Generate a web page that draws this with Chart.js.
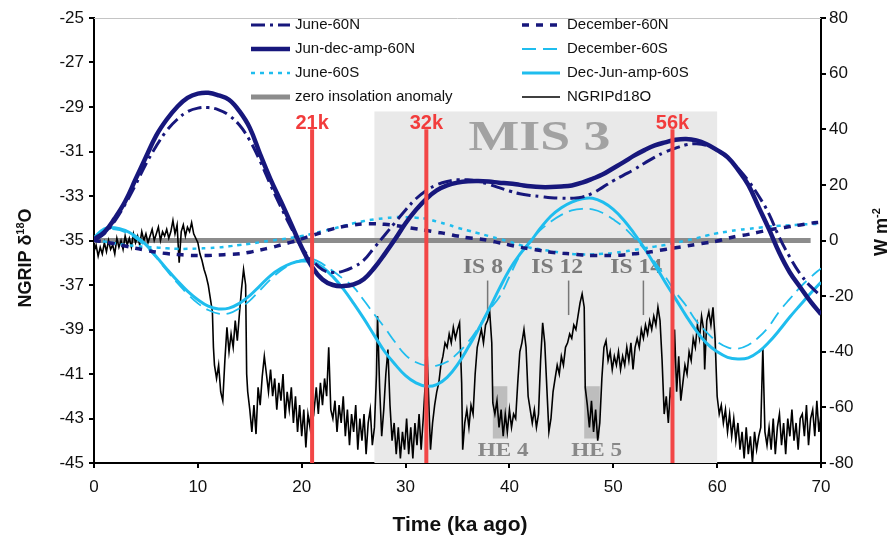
<!DOCTYPE html>
<html>
<head>
<meta charset="utf-8">
<script src="https://cdn.jsdelivr.net/npm/chart.js@4.4.0/dist/chart.umd.min.js"></script>
<style>
  html, body { margin: 0; padding: 0; background: #fff; }
</style>
</head>
<body>
<canvas id="chart" width="893" height="537"></canvas>
<script>
// insolation anomalies (W m-2), one value per ka
const insolAge = [0,1,2,3,4,5,6,7,8,9,10,11,12,13,14,15,16,17,18,19,20,21,22,23,24,25,26,27,28,29,30,31,32,33,34,35,36,37,38,39,40,41,42,43,44,45,46,47,48,49,50,51,52,53,54,55,56,57,58,59,60,61,62,63,64,65,66,67,68,69,70]
const june60N = [0,2.5,7,13,20,27.5,34,39.5,43.5,46.3,47.6,47.8,47,45,41.5,36,28.5,20,12,4.5,-2.5,-7,-10.5,-11.5,-11,-9.5,-7,-2.5,2,6.5,11,15,18,20,21.2,21.8,21.8,21.2,20.2,19,17.8,16.8,16.2,15.8,15.4,15.2,15.2,15.6,17,19.2,21.5,23.5,25.5,27.8,30,31.8,33.2,34.4,34.8,34.2,32.5,29.8,26,21.5,16,9.5,1,-6,-12,-16.5,-20]
const ampN60 = [0.5,3,8,14,22,30,37.8,43.5,48,51.3,52.8,53.1,52.2,50.6,46.5,40.5,31,22,14,5.8,-2.5,-9.5,-14,-16,-16.4,-15.8,-13.8,-9.8,-4.8,0.5,6.2,11,15,18,19.8,20.8,21.3,21.4,21.2,20.8,20.5,20,19.5,19.2,19.2,19.4,19.8,20.8,22.2,23.8,26,28.2,30.5,32.5,34.2,35.3,36.2,36.5,36,34.6,32.5,30,25.5,20,12,4,-4.5,-11.5,-16.8,-22,-26.5]
const dec60N = [0,-0.5,-1.2,-2,-2.8,-3.5,-4.2,-4.7,-5,-5.3,-5.4,-5.4,-5.2,-5,-4.8,-4.2,-3.4,-2.6,-1.6,-0.6,0.6,1.8,3,4.2,5,5.6,6,6,5.8,5.4,4.8,4.2,3.6,3,2.4,1.6,1,0.6,0,-0.8,-1.6,-2.4,-3,-3.6,-4.2,-4.6,-4.8,-5.2,-5.4,-5.4,-5.4,-5.2,-4.8,-4.4,-3.8,-3.2,-2.6,-2,-1.4,-0.8,-0.2,0.8,1.6,2.2,3,3.8,4.4,5,5.6,6.2,6.6]
const june60S = [0,-0.4,-1,-1.6,-2,-2.3,-2.5,-2.8,-3,-3,-2.9,-2.7,-2.5,-2.1,-1.6,-1.2,-0.6,0,0.4,1,1.6,2.4,3.4,4.2,5.2,6.2,7,7.6,8,8.4,8.4,8.2,7.8,6.8,5.8,4.6,3.6,2.6,1.6,0.6,-0.4,-1.6,-2.6,-3.2,-3.8,-4.4,-4.8,-5,-5,-4.8,-4.5,-4,-3.4,-2.8,-2.2,-1.6,-0.8,0,0.8,1.8,2.6,3.2,3.8,4.2,4.6,5,5.3,5.5,5.7,5.9,6]
const dec60S = [1,3.6,4,3,0.8,-2.2,-6.2,-10.8,-15.2,-19.2,-22.6,-25,-26.3,-26.2,-24.4,-21.6,-17.8,-14,-10.8,-8.4,-7,-6.6,-8.4,-11,-13.8,-16.8,-21.6,-26.6,-31.4,-36.6,-41.2,-43.8,-45,-45,-43.6,-40.6,-36.6,-31.4,-25.2,-20.5,-13,-5.4,0,3.8,6.8,9.2,10.8,11.4,11.2,9.9,7.6,4.8,1,-3.2,-7.8,-13,-18.6,-23.4,-29,-33,-36.4,-38.4,-38.9,-37.6,-34.8,-30.8,-25.4,-21,-16.8,-13.2,-10]
const ampS60 = [1,4.2,4.6,3.6,1.5,-1.5,-5.8,-10.2,-14.4,-18.2,-21.3,-23.6,-24.6,-24.3,-22.6,-19.8,-16.2,-12.6,-10,-8.2,-7.4,-7.6,-9.6,-13,-17.4,-22.6,-28.2,-34.2,-40,-44.6,-48.6,-51.2,-52.4,-51.8,-49.2,-44.6,-38.6,-32,-25,-17.5,-10.5,-5,-0.5,4.5,8.8,11.8,13.8,15,15.2,13.8,11.2,7.4,2.6,-2.8,-8.8,-15,-21,-27,-32.5,-37,-40,-42,-42.6,-42.2,-40,-36.5,-32.2,-27.5,-23.2,-19,-15]
const zeroAge = [0, 69]

// NGRIP d18O (permil)
const ngripAge = [
  0,0.2,0.4,0.6,0.8,1,1.2,1.4,1.6,1.8,
  2,2.2,2.4,2.6,2.8,3,3.2,3.4,3.6,3.8,
  4,4.2,4.4,4.6,4.8,5,5.2,5.4,5.6,5.8,
  6,6.2,6.4,6.6,6.8,7,7.2,7.4,7.6,7.8,
  8,8.2,8.4,8.6,8.8,9,9.2,9.4,9.6,9.8,
  10,10.2,10.4,10.6,10.8,11,11.2,11.4,11.5,11.6,
  11.8,12,12.2,12.4,12.6,12.8,13,13.2,13.4,13.6,
  13.8,14,14.2,14.4,14.6,14.7,14.8,15,15.2,15.4,
  15.6,15.8,16,16.2,16.4,16.6,16.8,17,17.2,17.4,
  17.6,17.8,18,18.2,18.4,18.6,18.8,19,19.2,19.4,
  19.6,19.8,20,20.2,20.4,20.6,20.8,21,21.2,21.4,
  21.6,21.8,22,22.2,22.4,22.6,22.8,23,23.2,23.4,
  23.6,23.8,24,24.2,24.4,24.6,24.8,25,25.2,25.4,
  25.6,25.8,26,26.2,26.4,26.6,26.8,27,27.2,27.3,
  27.5,27.7,27.9,28.1,28.3,28.5,28.7,28.9,29.1,29.3,
  29.5,29.7,29.9,30.1,30.3,30.5,30.7,30.9,31.1,31.3,
  31.5,31.7,31.9,32,32.2,32.4,32.6,32.8,33,33.2,
  33.4,33.6,33.8,34,34.2,34.4,34.6,34.8,35,35.2,
  35.4,35.5,35.7,35.9,36.1,36.3,36.5,36.7,36.9,37.1,
  37.3,37.5,37.7,37.9,38.1,38.3,38.4,38.6,38.8,39,
  39.2,39.4,39.6,39.8,40,40.2,40.4,40.6,40.8,41,
  41.2,41.4,41.6,41.8,42,42.2,42.4,42.6,42.8,43,
  43.2,43.4,43.6,43.8,44,44.2,44.4,44.6,44.8,45,
  45.2,45.4,45.6,45.8,46,46.2,46.4,46.6,46.8,47,
  47.2,47.3,47.5,47.7,47.9,48.1,48.3,48.5,48.7,48.9,
  49.1,49.3,49.5,49.7,49.9,50.1,50.3,50.5,50.7,50.9,
  51.1,51.3,51.5,51.7,51.9,52.1,52.3,52.5,52.7,52.9,
  53.1,53.3,53.5,53.7,53.9,54.1,54.3,54.5,54.7,54.9,
  55.1,55.3,55.5,55.7,55.9,56.1,56.3,56.5,56.7,56.9,
  57.1,57.3,57.5,57.7,57.9,58.1,58.3,58.5,58.7,58.8,
  59,59.2,59.4,59.6,59.8,60,60.2,60.4,60.6,60.8,
  61,61.2,61.4,61.6,61.8,62,62.2,62.4,62.6,62.8,
  63,63.2,63.4,63.6,63.8,64,64.2,64.4,64.6,64.8,
  65,65.2,65.4,65.6,65.8,66,66.2,66.4,66.6,66.8,
  67,67.2,67.4,67.6,67.8,68,68.2,68.4,68.6,68.8,
  69,69.2,69.4,69.6,69.8,70
]
const ngripD18O = [
  -35.5,-35.2,-35.7,-35.3,-35.6,-35.1,-35.5,-35.0,-35.4,-35.2,
  -35.6,-34.9,-35.3,-35.0,-35.4,-34.8,-35.2,-34.9,-35.3,-34.7,
  -35.1,-34.8,-35.2,-34.6,-35.0,-34.7,-35.1,-34.8,-34.5,-35.0,
  -34.7,-34.4,-35.0,-34.6,-34.8,-34.5,-34.9,-34.6,-34.1,-34.7,
  -34.3,-36.0,-34.6,-34.3,-34.8,-34.4,-34.6,-34.2,-34.7,-34.9,
  -35.1,-35.6,-35.9,-36.3,-36.6,-37.0,-37.6,-38.2,-39.8,-40.6,
  -41.2,-40.6,-41.8,-42.2,-40.4,-38.9,-40.0,-39.2,-39.8,-38.6,
  -39.5,-38.3,-37.2,-36.3,-37.0,-41.0,-41.8,-42.6,-43.6,-42.4,
  -43.7,-41.6,-42.4,-41.1,-40.2,-41.0,-41.8,-40.8,-42.0,-41.2,
  -42.6,-41.4,-42.2,-41.0,-43.0,-41.8,-42.6,-41.6,-43.2,-42.0,
  -43.6,-42.4,-43.8,-42.6,-44.3,-42.8,-43.4,-41.8,-42.6,-41.6,
  -42.8,-41.4,-42.4,-41.2,-42.0,-39.8,-42.6,-43.0,-42.2,-43.6,
  -42.4,-43.2,-42.0,-43.8,-42.6,-44.2,-42.8,-43.6,-42.4,-44.4,
  -43.0,-44.0,-42.8,-44.6,-43.2,-42.6,-44.2,-43.4,-41.0,-38.4,
  -41.6,-43.8,-42.6,-41.0,-39.9,-42.4,-44.0,-43.2,-44.6,-43.4,
  -44.8,-43.6,-44.4,-43.0,-44.6,-43.4,-44.8,-43.2,-44.2,-42.8,
  -44.4,-43.0,-41.4,-39.0,-41.8,-44.4,-43.2,-42.4,-41.8,-41.4,
  -40.6,-40.2,-39.6,-39.8,-39.2,-39.6,-38.9,-39.4,-39.0,-38.7,
  -41.4,-44.4,-43.2,-42.6,-43.4,-42.4,-42.8,-41.0,-39.8,-39.4,
  -39.0,-39.6,-38.8,-38.6,-38.2,-39.6,-42.3,-42.8,-42.2,-43.4,
  -42.6,-43.8,-42.8,-43.6,-42.6,-43.4,-42.8,-43.0,-41.4,-40.0,
  -39.6,-39.0,-39.8,-42.0,-42.6,-43.2,-42.6,-43.4,-42.8,-40.4,
  -38.7,-39.6,-41.6,-43.6,-43.0,-41.8,-41.2,-40.6,-41.0,-40.2,
  -40.6,-39.8,-39.6,-39.2,-39.4,-38.8,-39.0,-38.4,-37.8,-37.4,
  -38.0,-41.6,-42.4,-43.4,-42.2,-43.6,-42.6,-44.0,-43.2,-41.2,
  -39.8,-39.5,-40.4,-40.0,-40.8,-40.2,-40.6,-40.0,-40.8,-40.2,
  -40.6,-39.8,-40.4,-39.6,-40.8,-39.8,-39.4,-39.8,-39.0,-39.4,
  -38.8,-39.2,-38.6,-39.0,-38.4,-38.8,-38.0,-38.6,-40.4,-42.8,
  -42.0,-43.2,-41.6,-42.4,-39.0,-41.8,-40.2,-42.2,-41.4,-40.6,
  -41.0,-40.0,-40.4,-39.4,-39.8,-38.8,-39.4,-38.4,-39.0,-40.8,
  -38.6,-38.2,-38.8,-38.0,-39.4,-42.0,-42.8,-42.4,-43.2,-42.6,
  -43.6,-42.8,-43.8,-43.0,-44.0,-43.2,-44.4,-43.6,-44.8,-43.4,
  -44.6,-43.8,-45.0,-43.6,-44.4,-43.8,-43.4,-39.8,-43.6,-44.2,
  -43.4,-44.4,-43.0,-44.6,-43.4,-42.8,-44.2,-43.2,-44.6,-43.0,
  -43.8,-42.6,-44.0,-43.2,-44.4,-43.0,-42.8,-43.8,-42.4,-44.2,
  -43.0,-42.6,-43.8,-42.2,-43.6,-42.8
]

// annotations (ages in ka, levels in permil on the left axis)
const eventAge = [21, 32, 55.7]
const eventLabel = ['21k', '32k', '56k']
const eventTop = -30.0
const eventLabelY = -29.72
const misSpan = [27, 60]
const misTop = -29.2
const misLabelAt = [42.9, -30.45]
const heSpans = [[38.4, 39.8], [47.2, 48.7]]
const heSpanY = [-41.55, -43.9]
const heLabels = ['HE 4', 'HE 5']
const heLabelAge = [39.4, 48.4]
const heLabelY = -44.45
const isLabels = ['IS 8', 'IS 12', 'IS 14']
const isLabelAge = [37.45, 44.6, 52.2]
const isLabelY = -36.25
const isMarkAge = [37.9, 45.7, 52.9]
const isMarkY = [-36.8, -38.35]

const NAVY = '#17177c'
const CYAN = '#1fbdee'

const pts = (xs, ys) => xs.map((x, i) => ({x: x, y: ys[i]}))

const redLines = eventAge.map(a => ({
    label: 'event', data: [{x: a, y: eventTop}, {x: a, y: -45}], yAxisID: 'y',
    borderColor: '#f24646', borderWidth: 4, pointRadius: 0, tension: 0
}))

const curves = [
    {label: 'Jun-dec-amp-60N', data: pts(insolAge, ampN60), yAxisID: 'y1', borderColor: NAVY, borderWidth: 4.5, tension: 0.4},
    {label: 'June-60N', data: pts(insolAge, june60N), yAxisID: 'y1', borderColor: NAVY, borderWidth: 3, borderDash: [14, 5, 3, 5], tension: 0.4},
    {label: 'December-60N', data: pts(insolAge, dec60N), yAxisID: 'y1', borderColor: NAVY, borderWidth: 3.5, borderDash: [7, 7], tension: 0.4},
    {label: 'Dec-Jun-amp-60S', data: pts(insolAge, ampS60), yAxisID: 'y1', borderColor: CYAN, borderWidth: 3, tension: 0.4},
    {label: 'December-60S', data: pts(insolAge, dec60S), yAxisID: 'y1', borderColor: CYAN, borderWidth: 1.8, borderDash: [14, 7], tension: 0.4},
    {label: 'June-60S', data: pts(insolAge, june60S), yAxisID: 'y1', borderColor: CYAN, borderWidth: 2.5, borderDash: [4, 5], tension: 0.4},
    {label: 'NGRIPd18O', data: pts(ngripAge, ngripD18O), yAxisID: 'y', borderColor: '#000', borderWidth: 1.6, tension: 0},
    {label: 'zero insolation anomaly', data: pts(zeroAge, [0, 0]), yAxisID: 'y1', borderColor: '#8c8c8c', borderWidth: 5, tension: 0}
]
curves.forEach(d => { d.pointRadius = 0; d.fill = false })

const legendCols = [
    ['June-60N', 'Jun-dec-amp-60N', 'June-60S', 'zero insolation anomaly'],
    ['December-60N', 'December-60S', 'Dec-Jun-amp-60S', 'NGRIPd18O']
]

function stretchText(ctx, text, x, y, sx) {
    ctx.save()
    ctx.translate(x, y)
    ctx.scale(sx, 1)
    ctx.fillText(text, 0, 0)
    ctx.restore()
}

const extras = {
    id: 'extras',
    beforeDatasetsDraw(chart) {
        const {ctx, chartArea: a} = chart
        const x = chart.scales.x, y = chart.scales.y
        ctx.save()
        // top frame line
        ctx.strokeStyle = '#c4c4c4'
        ctx.lineWidth = 1
        ctx.beginPath()
        ctx.moveTo(a.left, a.top + 0.5)
        ctx.lineTo(a.right, a.top + 0.5)
        ctx.stroke()
        // MIS 3 box
        const ml = x.getPixelForValue(misSpan[0]), mr = x.getPixelForValue(misSpan[1])
        const mt = y.getPixelForValue(misTop)
        ctx.fillStyle = '#e9e9e9'
        ctx.fillRect(ml, mt, mr - ml, a.bottom - mt)
        // HE boxes
        ctx.fillStyle = '#bdbdbd'
        heSpans.forEach(s => {
            const l = x.getPixelForValue(s[0]), r = x.getPixelForValue(s[1])
            const t = y.getPixelForValue(heSpanY[0]), b = y.getPixelForValue(heSpanY[1])
            ctx.fillRect(l, t, r - l, b - t)
        })
        ctx.textAlign = 'center'
        ctx.textBaseline = 'middle'
        // MIS 3 label
        ctx.fillStyle = '#a2a2a2'
        ctx.font = 'bold 42px "Liberation Serif", "Times New Roman", serif'
        stretchText(ctx, 'MIS 3', x.getPixelForValue(misLabelAt[0]), y.getPixelForValue(misLabelAt[1]), 1.28)
        // IS labels and markers
        ctx.fillStyle = '#7c7c7c'
        ctx.font = 'bold 20px "Liberation Serif", "Times New Roman", serif'
        isLabels.forEach((t, i) => stretchText(ctx, t, x.getPixelForValue(isLabelAge[i]), y.getPixelForValue(isLabelY), 1.18))
        ctx.strokeStyle = '#777'
        ctx.lineWidth = 1.5
        isMarkAge.forEach(a2 => {
            const px = x.getPixelForValue(a2)
            ctx.beginPath()
            ctx.moveTo(px, y.getPixelForValue(isMarkY[0]))
            ctx.lineTo(px, y.getPixelForValue(isMarkY[1]))
            ctx.stroke()
        })
        // HE labels
        ctx.fillStyle = '#888'
        ctx.font = 'bold 19px "Liberation Serif", "Times New Roman", serif'
        heLabels.forEach((t, i) => stretchText(ctx, t, x.getPixelForValue(heLabelAge[i]), y.getPixelForValue(heLabelY), 1.22))
        // event labels
        ctx.fillStyle = '#f23c3c'
        ctx.font = 'bold 20px "Liberation Sans", Arial, sans-serif'
        eventLabel.forEach((t, i) => ctx.fillText(t, x.getPixelForValue(eventAge[i]), y.getPixelForValue(eventLabelY)))
        ctx.restore()
    },
    afterDraw(chart) {
        const ctx = chart.ctx
        ctx.save()
        // legend
        ctx.font = '15px "Liberation Sans", Arial, sans-serif'
        ctx.textBaseline = 'middle'
        ctx.textAlign = 'left'
        const colX = [[251, 290, 295], [522, 560, 567]]
        const rowY = [25, 49, 73, 97]
        legendCols.forEach((col, ci) => {
            col.forEach((name, ri) => {
                const ds = chart.data.datasets.find(d => d.label === name)
                const yy = rowY[ri]
                ctx.strokeStyle = ds.borderColor
                ctx.lineWidth = ds.borderWidth
                ctx.setLineDash(ds.borderDash || [])
                ctx.beginPath()
                ctx.moveTo(colX[ci][0], yy)
                ctx.lineTo(colX[ci][1], yy)
                ctx.stroke()
                ctx.setLineDash([])
                ctx.fillStyle = '#111'
                ctx.fillText(name, colX[ci][2], yy)
            })
        })
        // axis titles
        ctx.fillStyle = '#111'
        const big = 'bold 18px "Liberation Sans", Arial, sans-serif'
        const small = 'bold 11px "Liberation Sans", Arial, sans-serif'
        function titled(parts, cx, cy, rot) {
            ctx.save()
            ctx.translate(cx, cy)
            ctx.rotate(rot)
            let w = 0
            parts.forEach(p => { ctx.font = p[1] ? small : big; w += ctx.measureText(p[0]).width })
            let px = -w / 2
            ctx.textAlign = 'left'
            ctx.textBaseline = 'alphabetic'
            parts.forEach(p => {
                ctx.font = p[1] ? small : big
                ctx.fillText(p[0], px, p[1] ? -1 : 6)
                px += ctx.measureText(p[0]).width
            })
            ctx.restore()
        }
        titled([['NGRIP \u03b4', false], ['18', true], ['O', false]], 25, 258, -Math.PI / 2)
        titled([['W m', false], ['-2', true]], 881, 232, -Math.PI / 2)
        ctx.font = 'bold 21px "Liberation Sans", Arial, sans-serif'
        ctx.textAlign = 'center'
        ctx.textBaseline = 'middle'
        ctx.fillText('Time (ka ago)', 460, 525)
        ctx.restore()
    }
}

const tickFont = {family: '"Liberation Sans", Arial, sans-serif', size: 17}
const axisGrid = {drawOnChartArea: false, drawTicks: true, tickLength: 5, color: '#000', lineWidth: 2}

new Chart(document.getElementById('chart'), {
    type: 'line',
    data: {datasets: redLines.concat(curves)},
    options: {
        responsive: false,
        animation: false,
        devicePixelRatio: 1,
        layout: {padding: {top: 18, left: 0, right: 0, bottom: 0}},
        plugins: {legend: {display: false}, tooltip: {enabled: false}},
        scales: {
            x: {
                type: 'linear', min: 0, max: 70,
                ticks: {stepSize: 10, font: tickFont, color: '#111', padding: 9, maxRotation: 0},
                grid: axisGrid,
                border: {color: '#000', width: 2},
                afterFit: s => { s.height = 74 }
            },
            y: {
                position: 'left', min: -45, max: -25,
                ticks: {stepSize: 2, font: tickFont, color: '#111', padding: 5},
                grid: axisGrid,
                border: {color: '#000', width: 2},
                afterFit: s => { s.width = 94 }
            },
            y1: {
                position: 'right', min: -80, max: 80,
                ticks: {stepSize: 20, font: tickFont, color: '#111', padding: 3},
                grid: axisGrid,
                border: {color: '#000', width: 2},
                afterFit: s => { s.width = 72 }
            }
        }
    },
    plugins: [extras]
})
</script>
</body>
</html>
